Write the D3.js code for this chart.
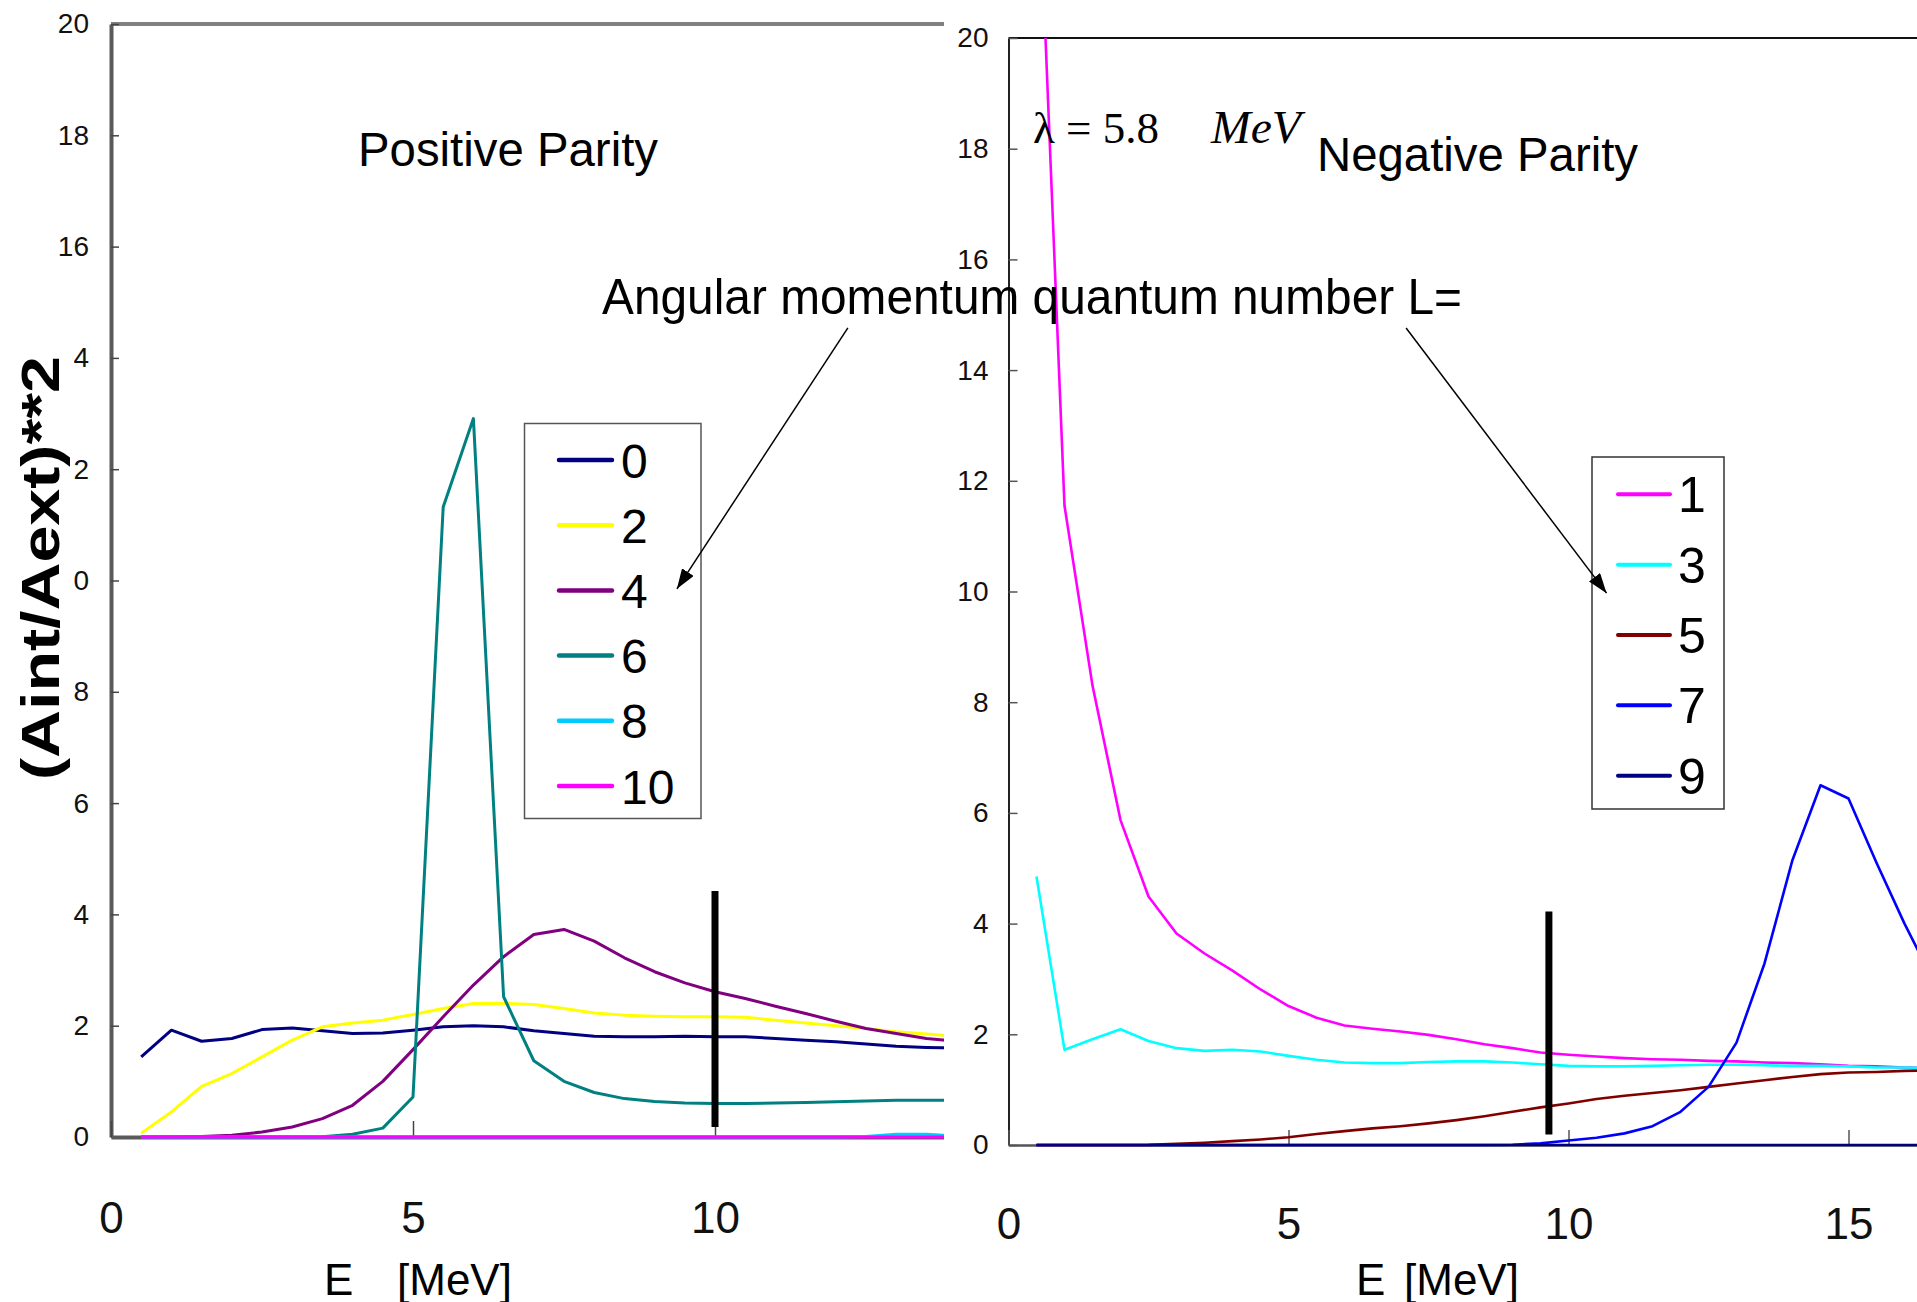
<!DOCTYPE html>
<html lang="en">
<head>
<meta charset="UTF-8">
<title>(Aint/Aext)**2 by parity</title>
<script src="https://d3js.org/d3.v7.min.js"></script>
<style>
  body { margin: 0; background: #fff; }
  svg { display: block; }
  text { font-family: "Liberation Sans", Arial, sans-serif; }
</style>
</head>
<body>
<svg width="1917" height="1302"></svg>
<script>
    const svg = d3.select("svg")

    // energies in MeV (x values)
    const energyPos = [0.5, 1, 1.5, 2, 2.5, 3, 3.5, 4, 4.5, 5, 5.5, 6, 6.5, 7, 7.5, 8, 8.5, 9, 9.5, 10,
                       10.5, 11, 11.5, 12, 12.5, 13, 13.5, 14]
    const energyNeg = [0.5, 1, 1.5, 2, 2.5, 3, 3.5, 4, 4.5, 5, 5.5, 6, 6.5, 7, 7.5, 8, 8.5, 9, 9.5, 10,
                       10.5, 11, 11.5, 12, 12.5, 13, 13.5, 14, 14.5, 15, 15.5, 16, 16.5]

    // positive parity, L = 0,2,4,6,8,10
    const posNames = ["0", "2", "4", "6", "8", "10"]
    const posColors = ["#000080", "#ffff00", "#800080", "#008080", "#00ccff", "#ff00ff"]
    const posL0 = [1.44, 1.92, 1.72, 1.77, 1.93, 1.96, 1.91, 1.86, 1.87, 1.92, 1.98, 2.00, 1.98, 1.91, 1.86, 1.81,
                   1.80, 1.80, 1.81, 1.80, 1.80, 1.77, 1.74, 1.71, 1.67, 1.63, 1.61, 1.60]
    const posL2 = [0.07, 0.45, 0.91, 1.14, 1.44, 1.74, 1.98, 2.05, 2.10, 2.20, 2.31, 2.40, 2.40, 2.38, 2.31, 2.23,
                   2.19, 2.17, 2.16, 2.16, 2.15, 2.10, 2.05, 2.00, 1.95, 1.89, 1.85, 1.81]
    const posL4 = [0, 0, 0.01, 0.03, 0.09, 0.18, 0.33, 0.57, 1.00, 1.57, 2.16, 2.73, 3.24, 3.64, 3.73, 3.52,
                   3.22, 2.97, 2.77, 2.61, 2.49, 2.35, 2.22, 2.08, 1.95, 1.86, 1.77, 1.72]
    const posL6 = [0, 0, 0, 0, 0, 0, 0.005, 0.05, 0.16, 0.72, 11.32, 12.91, 2.52, 1.37, 1.00, 0.80,
                   0.69, 0.64, 0.61, 0.60, 0.60, 0.61, 0.62, 0.635, 0.645, 0.66, 0.66, 0.66]
    const posL8 = [0, 0, 0, 0, 0, 0, 0, 0, 0, 0, 0, 0, 0, 0, 0, 0,
                   0, 0, 0, 0, 0, 0, 0, 0, 0.01, 0.05, 0.05, 0.02]
    const posL10 = [0, 0, 0, 0, 0, 0, 0, 0, 0, 0, 0, 0, 0, 0, 0, 0,
                    0, 0, 0, 0, 0, 0, 0, 0, 0, 0, 0, 0]
    const posSeries = [posL0, posL2, posL4, posL6, posL8, posL10]

    // negative parity, L = 1,3,5,7,9
    const negNames = ["1", "3", "5", "7", "9"]
    const negColors = ["#ff00ff", "#00ffff", "#800000", "#0000ff", "#000080"]
    const negL1 = [24.0, 11.55, 8.3, 5.87, 4.49, 3.82, 3.46, 3.15, 2.81, 2.51, 2.30, 2.16, 2.10, 2.05, 1.99, 1.91,
                   1.82, 1.75, 1.67, 1.63, 1.60, 1.57, 1.55, 1.54, 1.52, 1.51, 1.49, 1.48, 1.46, 1.43, 1.42, 1.40, 1.39]
    const negL3 = [4.85, 1.72, 1.91, 2.09, 1.88, 1.75, 1.70, 1.72, 1.69, 1.61, 1.54, 1.49, 1.48, 1.48, 1.50, 1.51,
                   1.51, 1.49, 1.46, 1.43, 1.42, 1.42, 1.43, 1.44, 1.45, 1.45, 1.44, 1.43, 1.43, 1.42, 1.40, 1.40, 1.39]
    const negL5 = [0, 0, 0, 0, 0.003, 0.02, 0.04, 0.07, 0.10, 0.14, 0.20, 0.25, 0.30, 0.34, 0.39, 0.45,
                   0.52, 0.60, 0.68, 0.75, 0.83, 0.89, 0.94, 0.99, 1.05, 1.11, 1.17, 1.23, 1.28, 1.31, 1.32, 1.34, 1.35]
    const negL7 = [0, 0, 0, 0, 0, 0, 0, 0, 0, 0, 0, 0, 0, 0, 0, 0,
                   0, 0.005, 0.03, 0.08, 0.13, 0.21, 0.34, 0.60, 1.05, 1.85, 3.28, 5.15, 6.50, 6.26, 5.10, 4.00, 3.00]
    const negL9 = [0, 0, 0, 0, 0, 0, 0, 0, 0, 0, 0, 0, 0, 0, 0, 0,
                   0, 0, 0, 0, 0, 0, 0, 0, 0, 0, 0, 0, 0, 0, 0, 0, 0]
    const negSeries = [negL1, negL3, negL5, negL7, negL9]

    // tick labels
    const yTicks = [0, 2, 4, 6, 8, 10, 12, 14, 16, 18, 20]
    const xTicks = [0, 5, 10, 15]

    // thick black marker lines: [E, y bottom, y top]
    const barPos = [10, 0.18, 4.42]
    const barNeg = [9.65, 0.19, 4.22]

    // arrows in panel data coords: [E start, y start, E end, y end]
    const arrowPos = [12.2, 14.54, 9.37, 9.85]
    const arrowNeg = [7.10, 14.76, 10.68, 9.97]

    // scales
    let xL = d3.scaleLinear().domain([0, 15]).range([111, 1017])
    let yL = d3.scaleLinear().domain([0, 20]).range([1137, 24])
    let xR = d3.scaleLinear().domain([0, 16.3]).range([1008.5, 1921.3])
    let yR = d3.scaleLinear().domain([0, 20]).range([1145, 38])

    const defs = svg.append("defs")
    defs.append("clipPath").attr("id", "clipR")
        .append("rect").attr("x", xR(0)).attr("y", yR(20)).attr("width", 1917 - xR(0)).attr("height", yR(0) - yR(20) + 10)
    defs.append("marker").attr("id", "arrow")
        .attr("viewBox", "0 0 20 14").attr("refX", 20).attr("refY", 7)
        .attr("markerWidth", 20).attr("markerHeight", 14)
        .attr("markerUnits", "userSpaceOnUse").attr("orient", "auto")
        .append("path").attr("d", "M0,0L20,7L0,14Z").attr("fill", "#000")

    // ---------- left panel (positive parity) ----------
    svg.append("line")
        .attr("x1", xL(0)).attr("x2", xL(15))
        .attr("y1", yL(20)).attr("y2", yL(20))
        .attr("stroke", "#808080").attr("stroke-width", 4)

    let gyL = svg.append("g")
        .attr("transform", `translate(${xL(0)},0)`)
        .call(d3.axisLeft(yL).tickValues(yTicks).tickSize(-8).tickSizeOuter(0).tickPadding(22))
    gyL.select(".domain").attr("stroke", "#5a5a5a").attr("stroke-width", 4)
    gyL.selectAll(".tick line").attr("stroke", "#444").attr("stroke-width", 1.5)
    gyL.selectAll(".tick text").attr("font-size", 28).attr("fill", "#111")
        .attr("font-family", "'Liberation Sans', Arial, sans-serif")

    let gxL = svg.append("g")
        .attr("transform", `translate(0,${yL(0)})`)
        .call(d3.axisBottom(xL).tickValues(xTicks).tickSize(-16).tickSizeOuter(0).tickPadding(65))
    gxL.select(".domain").attr("stroke", "#5a5a5a").attr("stroke-width", 4)
    gxL.selectAll(".tick line").attr("stroke", "#444").attr("stroke-width", 1.5)
    gxL.selectAll(".tick text").attr("font-size", 44).attr("fill", "#111")
        .attr("font-family", "'Liberation Sans', Arial, sans-serif")

    let lineL = d3.line().x((d, i) => xL(energyPos[i])).y(d => yL(d))
    svg.append("g").selectAll("path")
        .data(posSeries)
        .enter()
        .append("path")
        .attr("d", d => lineL(d))
        .attr("fill", "none")
        .attr("stroke", (d, i) => posColors[i])
        .attr("stroke-width", 3)
        .attr("stroke-linejoin", "round")

    svg.append("line")
        .attr("x1", xL(barPos[0])).attr("x2", xL(barPos[0]))
        .attr("y1", yL(barPos[1])).attr("y2", yL(barPos[2]))
        .attr("stroke", "#000").attr("stroke-width", 7)

    // legend (left)
    let legL = svg.append("g")
    legL.append("rect").attr("x", 524.5).attr("y", 423.5).attr("width", 176.5).attr("height", 395)
        .attr("fill", "#fff").attr("stroke", "#555").attr("stroke-width", 1.5)
    posNames.forEach((name, i) => {
        let y = 460 + i * 65.2
        legL.append("line").attr("x1", 559).attr("x2", 612).attr("y1", y).attr("y2", y)
            .attr("stroke", posColors[i]).attr("stroke-width", 4.5).attr("stroke-linecap", "round")
        legL.append("text").attr("x", 621).attr("y", y + 17.5).attr("font-size", 48).text(name)
    })

    svg.append("text").attr("x", 358).attr("y", 166).attr("font-size", 48)
        .attr("textLength", 300).attr("lengthAdjust", "spacingAndGlyphs")
        .text("Positive Parity")

    svg.append("text").attr("x", 324).attr("y", 1295).attr("font-size", 44).text("E")
    svg.append("text").attr("x", 397).attr("y", 1295).attr("font-size", 44).text("[MeV]")

    // y title with its white box
    svg.append("rect").attr("x", 0).attr("y", 336).attr("width", 74).attr("height", 476).attr("fill", "#fff")
    svg.append("text")
        .attr("transform", "translate(59,568) rotate(-90)")
        .attr("text-anchor", "middle")
        .attr("font-size", 53).attr("font-weight", "bold")
        .attr("textLength", 424).attr("lengthAdjust", "spacingAndGlyphs")
        .text("(Aint/Aext)**2")

    // ---------- right panel (negative parity) ----------
    svg.append("rect").attr("x", 944).attr("y", 0).attr("width", 973).attr("height", 1302).attr("fill", "#fff")

    svg.append("line")
        .attr("x1", xR(0)).attr("x2", 1917)
        .attr("y1", yR(20)).attr("y2", yR(20))
        .attr("stroke", "#111").attr("stroke-width", 2)

    let gyR = svg.append("g")
        .attr("transform", `translate(${xR(0)},0)`)
        .call(d3.axisLeft(yR).tickValues(yTicks).tickSize(-9).tickSizeOuter(0).tickPadding(20))
    gyR.select(".domain").attr("stroke", "#222").attr("stroke-width", 2)
    gyR.selectAll(".tick line").attr("stroke", "#555").attr("stroke-width", 1.5)
    gyR.selectAll(".tick text").attr("font-size", 28).attr("fill", "#111")
        .attr("font-family", "'Liberation Sans', Arial, sans-serif")

    let gxR = svg.append("g")
        .attr("transform", `translate(0,${yR(0)})`)
        .call(d3.axisBottom(xR).tickValues(xTicks).tickSize(-15).tickSizeOuter(0).tickPadding(63))
    gxR.select(".domain").attr("stroke", "#555").attr("stroke-width", 2.5)
    gxR.selectAll(".tick line").attr("stroke", "#555").attr("stroke-width", 1.5)
    gxR.selectAll(".tick text").attr("font-size", 44).attr("fill", "#111")
        .attr("font-family", "'Liberation Sans', Arial, sans-serif")

    let lineR = d3.line().x((d, i) => xR(energyNeg[i])).y(d => yR(d))
    svg.append("g").attr("clip-path", "url(#clipR)").selectAll("path")
        .data(negSeries)
        .enter()
        .append("path")
        .attr("d", d => lineR(d))
        .attr("fill", "none")
        .attr("stroke", (d, i) => negColors[i])
        .attr("stroke-width", 2.6)
        .attr("stroke-linejoin", "round")

    svg.append("line")
        .attr("x1", xR(barNeg[0])).attr("x2", xR(barNeg[0]))
        .attr("y1", yR(barNeg[1])).attr("y2", yR(barNeg[2]))
        .attr("stroke", "#000").attr("stroke-width", 7)

    // legend (right)
    let legR = svg.append("g")
    legR.append("rect").attr("x", 1592).attr("y", 457).attr("width", 132).attr("height", 352)
        .attr("fill", "#fff").attr("stroke", "#333").attr("stroke-width", 1.5)
    negNames.forEach((name, i) => {
        let y = 494.3 + i * 70.35
        legR.append("line").attr("x1", 1618).attr("x2", 1670).attr("y1", y).attr("y2", y)
            .attr("stroke", negColors[i]).attr("stroke-width", 4).attr("stroke-linecap", "round")
        legR.append("text").attr("x", 1678).attr("y", y + 18).attr("font-size", 50).text(name)
    })

    let serif = "'Liberation Serif', 'Times New Roman', serif"
    svg.append("text").attr("x", 1033).attr("y", 143).attr("font-size", 45)
        .style("font-family", serif)
        .text("λ = 5.8")
    svg.append("text").attr("x", 1211).attr("y", 143).attr("font-size", 46).attr("font-style", "italic")
        .style("font-family", serif)
        .attr("textLength", 90).attr("lengthAdjust", "spacingAndGlyphs").text("MeV")

    svg.append("text").attr("x", 1317).attr("y", 170.5).attr("font-size", 48)
        .attr("textLength", 321).attr("lengthAdjust", "spacingAndGlyphs")
        .text("Negative Parity")

    svg.append("text").attr("x", 1356).attr("y", 1295).attr("font-size", 44).text("E")
    svg.append("text").attr("x", 1404).attr("y", 1295).attr("font-size", 44).text("[MeV]")

    // ---------- shared annotation ----------
    svg.append("text").attr("x", 602).attr("y", 313.5).attr("font-size", 50)
        .attr("textLength", 860).attr("lengthAdjust", "spacingAndGlyphs")
        .text("Angular momentum quantum number L=")

    svg.append("line")
        .attr("x1", xL(arrowPos[0])).attr("y1", yL(arrowPos[1]))
        .attr("x2", xL(arrowPos[2])).attr("y2", yL(arrowPos[3]))
        .attr("stroke", "#000").attr("stroke-width", 1.5).attr("marker-end", "url(#arrow)")
    svg.append("line")
        .attr("x1", xR(arrowNeg[0])).attr("y1", yR(arrowNeg[1]))
        .attr("x2", xR(arrowNeg[2])).attr("y2", yR(arrowNeg[3]))
        .attr("stroke", "#000").attr("stroke-width", 1.5).attr("marker-end", "url(#arrow)")
</script>
</body>
</html>
